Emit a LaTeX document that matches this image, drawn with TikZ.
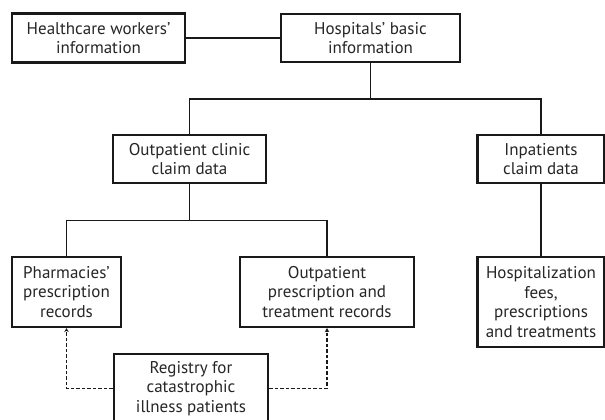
\documentclass[tikz,border=0pt]{standalone}
\usepackage{fontspec}
\setmainfont{PT Sans}
\usetikzlibrary{arrows.meta}
\begin{document}
\begin{tikzpicture}[x=1pt,y=-1pt,
  box/.style={draw=black!90, line width=2.2pt, align=center, inner sep=0pt,
    font=\fontsize{17}{19.5}\selectfont, text=black!85},
  conn/.style={draw=black!90, line width=1.8pt},
  dasharrow/.style={draw=black!90, line width=1.8pt, dash pattern=on 3.5pt off 2pt,
    -{Stealth[length=4pt,width=4.5pt]}}]
\clip (0,0) rectangle (605,420);
\fill[white] (0,0) rectangle (605,420);
\node[box, minimum width=173pt, minimum height=49pt] (hw) at (98.5,38) {Healthcare workers'\\information};
\node[box, minimum width=179pt, minimum height=48pt] (hosp) at (370.5,38) {Hospitals' basic\\information};
\node[box, minimum width=153pt, minimum height=48pt] (opc) at (189.5,159) {Outpatient clinic\\claim data};
\node[box, minimum width=127pt, minimum height=48pt] (inp) at (541,159) {Inpatients\\claim data};
\node[box, minimum width=109pt, minimum height=70pt] (phar) at (66.5,292) {Pharmacies'\\prescription\\records};
\node[box, minimum width=174pt, minimum height=70pt] (opt) at (327,292) {Outpatient\\prescription and\\treatment records};
\node[box, minimum width=127pt, minimum height=90pt] (hospz) at (541,302) {Hospitalization\\fees,\\prescriptions\\and treatments};
\node[box, minimum width=154pt, minimum height=69pt] (reg) at (191,388.5) {Registry for\\catastrophic\\illness patients};
\coordinate (j1) at (370.5,99);
\coordinate (j2) at (189.5,220.5);
\draw[conn] (hw.east) -- (hosp.west);
\draw[conn] (hosp.south) -- (j1);
\draw[conn] (opc.north) |- (j1) -| (inp.north);
\draw[conn] (inp.south) -- (hospz.north);
\draw[conn] (opc.south) -- (j2);
\draw[conn] (phar.north) |- (j2) -| (opt.north);
\draw[dasharrow] (reg.west) -| (phar.south);
\draw[dasharrow] (reg.east) -| (opt.south);
\end{tikzpicture}
\end{document}
